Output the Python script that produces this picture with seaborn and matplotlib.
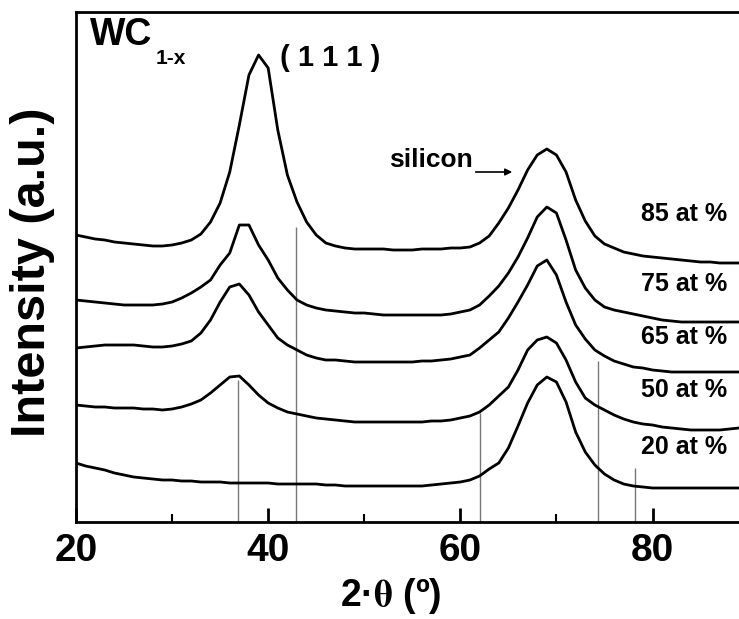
import matplotlib
matplotlib.use("Agg")
import matplotlib.pyplot as plt
import seaborn as sns
import numpy as np
import pandas as pd

two_theta = list(range(20, 90))

s85 = [287, 285, 283, 282, 280, 279, 278, 277, 276, 276,
       277, 279, 282, 288, 300, 319, 350, 397, 447, 467,
       454, 392, 347, 320, 300, 287, 279, 276, 274, 273,
       273, 273, 273, 272, 272, 272, 273, 273, 273, 274,
       274, 275, 279, 286, 299, 314, 332, 352, 367, 373,
       367, 350, 322, 301, 286, 278, 274, 270, 268, 266,
       265, 264, 263, 262, 261, 260, 260, 259, 259, 259]
s75 = [222, 221, 220, 219, 218, 217, 217, 217, 217, 218,
       220, 224, 229, 235, 242, 257, 269, 297, 297, 277,
       262, 244, 232, 222, 217, 214, 212, 211, 210, 209,
       209, 208, 207, 207, 207, 207, 207, 207, 207, 208,
       210, 212, 217, 226, 236, 249, 265, 284, 305, 315,
       309, 282, 252, 234, 222, 215, 212, 210, 208, 206,
       204, 202, 201, 200, 200, 200, 200, 200, 200, 200]
s65 = [174, 175, 176, 177, 177, 177, 177, 176, 175, 175,
       176, 178, 181, 189, 202, 220, 235, 238, 227, 210,
       197, 184, 177, 172, 167, 164, 162, 162, 161, 160,
       160, 160, 160, 160, 160, 160, 161, 161, 162, 163,
       165, 167, 174, 182, 190, 204, 220, 237, 256, 262,
       247, 220, 197, 183, 172, 166, 161, 158, 155, 154,
       152, 151, 150, 150, 150, 150, 150, 150, 150, 150]
s50 = [117, 116, 115, 115, 114, 114, 114, 113, 113, 112,
       113, 115, 118, 122, 129, 137, 145, 146, 137, 127,
       119, 114, 110, 108, 106, 104, 103, 102, 101, 100,
       100, 100, 100, 100, 100, 100, 100, 101, 101, 102,
       104, 106, 110, 117, 126, 135, 152, 172, 182, 185,
       179, 162, 140, 124, 117, 112, 107, 103, 100, 98,
       97, 95, 94, 93, 92, 92, 92, 92, 93, 94]
s20 = [59, 56, 54, 52, 49, 47, 45, 44, 43, 42,
       42, 41, 41, 40, 40, 40, 39, 39, 39, 39,
       39, 38, 38, 38, 38, 38, 37, 37, 36, 36,
       36, 36, 36, 36, 36, 36, 36, 37, 38, 39,
       40, 42, 46, 53, 59, 74, 96, 119, 137, 145,
       140, 120, 90, 70, 57, 48, 42, 38, 36, 35,
       34, 34, 34, 34, 34, 34, 34, 34, 34, 34]

series = {"85 at %": s85, "75 at %": s75, "65 at %": s65,
          "50 at %": s50, "20 at %": s20}
label_y = {"85 at %": 308, "75 at %": 238, "65 at %": 185,
           "50 at %": 132, "20 at %": 75}

ref_pos = [36.9, 42.9, 62.0, 74.3, 78.2]
ref_top = [142, 295, 109, 161, 54]

rows = []
for name, vals in series.items():
    for t, v in zip(two_theta, vals):
        rows.append({"two_theta": t, "intensity": v, "sample": name})
df = pd.DataFrame(rows)

sns.set_style("ticks")
plt.rcParams["font.family"] = ["Liberation Sans", "DejaVu Sans"]
plt.rcParams["font.weight"] = "bold"
plt.rcParams["mathtext.fontset"] = "stix"
for key in ["text.color", "axes.labelcolor", "xtick.color", "ytick.color",
            "axes.edgecolor"]:
    plt.rcParams[key] = "black"

fig = plt.figure(figsize=(7.39, 6.19), dpi=100)
ax = fig.add_axes([76 / 739, 1 - 522 / 619, 1 - 76 / 739, (522 - 12) / 619])

ax.vlines(ref_pos, 0, ref_top, color="#777777", linewidth=1.0, zorder=1)

sns.lineplot(data=df, x="two_theta", y="intensity", units="sample",
             estimator=None, color="black", linewidth=2.0, ax=ax, zorder=2)

ax.set_xlim(20, 89)
ax.set_ylim(0, 510)
ax.set_xticks([20, 40, 60, 80])
ax.set_xticks([30, 50, 70], minor=True)
ax.set_yticks([])
ax.tick_params(axis="x", which="major", direction="in", length=10, width=2,
               labelsize=28, pad=8)
ax.tick_params(axis="x", which="minor", direction="in", length=6, width=1.5)
for lbl in ax.get_xticklabels():
    lbl.set_fontweight("bold")

for side in ["left", "bottom", "top"]:
    ax.spines[side].set_linewidth(2)
ax.spines["right"].set_visible(False)

ax.set_xlabel("2·" + r"$\mathrm{\theta}$" + " (º)", fontsize=27, fontweight="bold")
ax.xaxis.set_label_coords(0.474, -0.105)
ax.set_ylabel("Intensity (a.u.)", fontsize=35, fontweight="bold")
ax.yaxis.set_label_coords(-0.032, 0.49)

ax.text(21.5, 487, "WC", fontsize=27, fontweight="bold", ha="left", va="center")
ax.text(28.3, 463, "1-x", fontsize=15, fontweight="bold", ha="left", va="center")
ax.text(41.2, 464, "( 1 1 1 )", fontsize=21, fontweight="bold", ha="left", va="center")
ax.text(61.3, 362, "silicon", fontsize=19, fontweight="bold", ha="right", va="center")
ax.annotate("", xy=(65.4, 350), xytext=(61.6, 350),
            arrowprops=dict(arrowstyle="-|>", color="black", lw=1.2,
                            mutation_scale=10, shrinkA=0, shrinkB=0))

for name, yv in label_y.items():
    ax.text(87.8, yv, name, fontsize=18, fontweight="bold", ha="right", va="center")

fig.savefig("out.png", dpi=100)
